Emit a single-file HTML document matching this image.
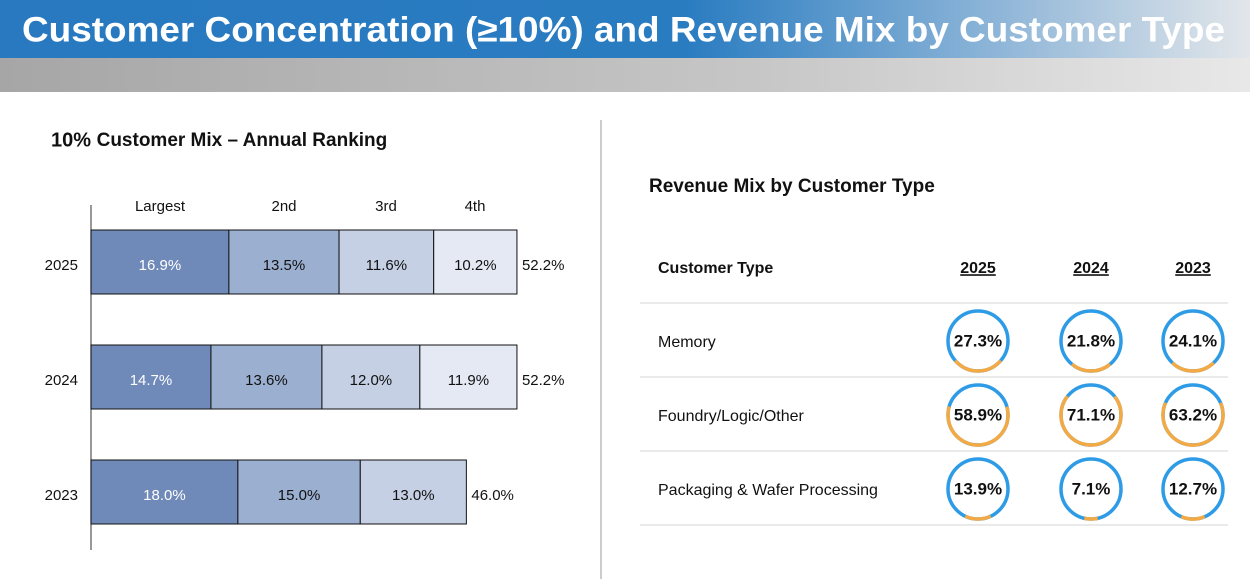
<!DOCTYPE html>
<html><head><meta charset="utf-8"><style>
body{margin:0;width:1250px;height:579px;overflow:hidden;background:#fff;font-family:"Liberation Sans",sans-serif}
</style></head><body>
<svg width="1250" height="579" viewBox="0 0 1250 579" xmlns="http://www.w3.org/2000/svg" font-family="Liberation Sans, sans-serif">
<defs>
<linearGradient id="blue" x1="0" x2="1" y1="0" y2="0"><stop offset="0" stop-color="#2879c0"/><stop offset="0.55" stop-color="#2a7cc1"/><stop offset="0.8" stop-color="#8fb6d8"/><stop offset="1" stop-color="#e2e6ea"/></linearGradient>
<linearGradient id="gray" x1="0" x2="1" y1="0" y2="0"><stop offset="0" stop-color="#a6a6a6"/><stop offset="0.6" stop-color="#c6c6c6"/><stop offset="1" stop-color="#e8e8e8"/></linearGradient>
</defs>
<rect x="0" y="0" width="1250" height="58" fill="url(#blue)"/>
<rect x="0" y="58" width="1250" height="34" fill="url(#gray)"/>
<text x="22" y="32" dominant-baseline="middle" fill="#fff" font-weight="bold" font-size="35" textLength="1203" lengthAdjust="spacingAndGlyphs">Customer Concentration (≥10%) and Revenue Mix by Customer Type</text>
<line x1="601" y1="120" x2="601" y2="579" stroke="#999" stroke-width="1"/>
<text x="51" y="141" dominant-baseline="middle" font-weight="bold" font-size="20" fill="#111">10% <tspan font-size="19">Customer Mix  – Annual Ranking</tspan></text>
<g id="bars"></g>
<text x="649" y="187" dominant-baseline="middle" font-weight="bold" font-size="19" fill="#111">Revenue Mix by Customer Type</text>
<g id="tbl"></g>
</svg>
<script>
const years = ['2025','2024','2023'];
const s1 = [16.9,14.7,18.0];
const s2 = [13.5,13.6,15.0];
const s3 = [11.6,12.0,13.0];
const s4 = [10.2,11.9,null];
const totals = ['52.2%','52.2%','46.0%'];
const rankLabels = ['Largest','2nd','3rd','4th'];
const custTypes = ['Memory','Foundry/Logic/Other','Packaging & Wafer Processing'];
const colYears = ['2025','2024','2023'];
const mix2025 = [27.3,58.9,13.9];
const mix2024 = [21.8,71.1,7.1];
const mix2023 = [24.1,63.2,12.7];

const NS='http://www.w3.org/2000/svg';
function mk(tag,attrs,parent,txt){const e=document.createElementNS(NS,tag);for(const k in attrs)e.setAttribute(k,attrs[k]);if(txt!=null)e.textContent=txt;parent.appendChild(e);return e;}
const x0=91, pxPer=8.16;
const xs=v=>x0+v*pxPer;
const rowY=[230,345,460], bh=64;
const bars=document.getElementById('bars');
const ax=mk('line',{x1:x0,y1:205,x2:x0,y2:550,stroke:'#555','stroke-width':1.2},bars);


const hdrX=[160,284,386,475];
rankLabels.forEach((l,i)=>{const t=mk('text',{x:hdrX[i],y:207,'text-anchor':'middle','dominant-baseline':'middle','font-size':15,fill:'#111'},bars,l);

});
const series=[s1,s2,s3,s4], cols=['#6f8ab8','#9bafd0','#c5d0e4','#e4e9f3'];
years.forEach((y,r)=>{
  const yl=mk('text',{x:78,y:rowY[r]+bh/2+4,'text-anchor':'end','dominant-baseline':'middle','font-size':15,fill:'#111'},bars,y);
  
  
  let cum=0;
  series.forEach((s,i)=>{const v=s[r]; if(v==null) return;
    const rc=mk('rect',{x:xs(cum),y:rowY[r],width:v*pxPer,height:bh,fill:cols[i],stroke:'#111','stroke-width':1},bars);
    
    
    const tt=mk('text',{x:xs(cum+v/2),y:rowY[r]+bh/2+4,'text-anchor':'middle','dominant-baseline':'middle','font-size':15,fill:i==0?'#fff':'#111'},bars,v.toFixed(1)+'%');
    
    
    cum+=v;});
  const tl=mk('text',{x:xs(cum)+5,y:rowY[r]+bh/2+4,'dominant-baseline':'middle','font-size':15,fill:'#111'},bars,totals[r]);
  
  
});
const tbl=document.getElementById('tbl');
const cx=[978,1091,1193], ry=[341,415,489];
const h=mk('text',{x:658,y:269,'dominant-baseline':'middle','font-size':16,'font-weight':'bold',fill:'#111'},tbl,'Customer Type');


colYears.forEach((y,i)=>{const t=mk('text',{x:cx[i],y:269,'text-anchor':'middle','dominant-baseline':'middle','font-size':16,'font-weight':'bold',fill:'#111','text-decoration':'underline'},tbl,y);

});
[303,377,451,525].forEach(y=>{const l=mk('line',{x1:640,x2:1228,y1:y,y2:y,stroke:'#e3e3e3','stroke-width':1.5},tbl);

});
const mix=[mix2025,mix2024,mix2023], R=30, C=2*Math.PI*R;
custTypes.forEach((c,r)=>{
  const t=mk('text',{x:658,y:ry[r]+2,'dominant-baseline':'middle','font-size':16,fill:'#111'},tbl,c);
  
  
  mix.forEach((m,i)=>{const v=m[r];
    const bc=mk('circle',{cx:cx[i],cy:ry[r],r:R,fill:'none',stroke:'#2d9be6','stroke-width':3.5},tbl);
    
    
    const L=C*v/100;
    const rot=90-(v/100*360)/2;
    const oc=mk('circle',{cx:cx[i],cy:ry[r],r:R,fill:'none',stroke:'#f4aa44','stroke-width':3.5,'stroke-dasharray':L+' '+(C-L),transform:'rotate('+rot+' '+cx[i]+' '+ry[r]+')'},tbl);
    
    
    const vt=mk('text',{x:cx[i],y:ry[r]+1,'text-anchor':'middle','dominant-baseline':'middle','font-size':17,'font-weight':'bold',fill:'#111'},tbl,v.toFixed(1)+'%');
    
    
  });
});
</script>
</body></html>
